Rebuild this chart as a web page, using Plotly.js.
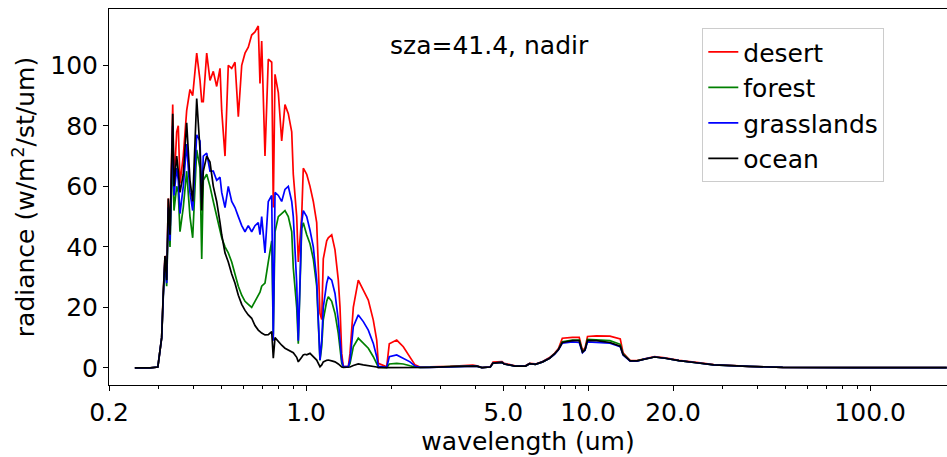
<!DOCTYPE html>
<html><head><meta charset="utf-8">
<script src="https://cdn.plot.ly/plotly-3.0.1.min.js"></script>
<style>html,body{margin:0;padding:0;background:#fff;}</style>
</head><body>
<div id="chart" style="width:947px;height:457px"></div>
<script>
// wavelength (um)
const wavelength = [0.247, 0.28, 0.298, 0.3075, 0.3116, 0.3159, 0.3203, 0.3246, 0.3291, 0.3337,
  0.3365, 0.34, 0.3476, 0.3521, 0.3571, 0.3668, 0.3771, 0.3874, 0.3961, 0.4093,
  0.4205, 0.4264, 0.4319, 0.4441, 0.4562, 0.4687, 0.4818, 0.4951, 0.502, 0.5157,
  0.5297, 0.5447, 0.5596, 0.5749, 0.5911, 0.6072, 0.6237, 0.6412, 0.6587, 0.6767,
  0.6862, 0.6958, 0.7148, 0.7343, 0.7551, 0.7649, 0.7757, 0.7969, 0.8192, 0.8415,
  0.8646, 0.8891, 0.9006, 0.926, 0.9382, 0.9645, 0.9772, 0.9908, 1.0049, 1.0323,
  1.0605, 1.0902, 1.1046, 1.12, 1.1358, 1.1506, 1.183, 1.1986, 1.2323, 1.266,
  1.3006, 1.3188, 1.3373, 1.3551, 1.4114, 1.4311, 1.4701, 1.5311, 1.5951, 1.6616,
  1.7308, 1.7797, 1.803, 1.9311, 1.9724, 2.0952, 2.2112, 2.3357, 2.4329, 2.534,
  2.75, 3.24, 3.9, 4.03, 4.2, 4.5, 4.6, 4.95, 5.04, 5.5,
  6.0, 6.2, 6.5, 6.9, 7.3, 7.6, 7.85, 8.1, 8.8, 9.3,
  9.55, 9.75, 9.95, 10.7, 11.95, 13.0, 13.3, 14.1, 14.9, 15.8,
  17.2, 18.75, 21, 24.2, 27.9, 37, 49, 87.5, 187];

const desert = [0, 0, 0.3, 10, 25, 37, 29, 56, 44, 75,
  87, 60, 78, 80, 61, 70, 85, 92, 90, 104,
  95, 88, 88, 104, 95, 98, 93, 99, 85, 70,
  100, 99, 101, 83, 100, 104, 106, 110, 111, 113,
  94, 108, 70, 102, 101, 53, 97, 91, 75, 87,
  84, 78, 64, 50, 35, 50, 66, 65, 64, 60,
  55, 48, 31, 18, 16, 36, 42, 43, 44, 39,
  29, 20, 4.8, 0.4, 0.4, 4.8, 20, 29, 25.7, 22.4,
  15.8, 9.2, 1.5, 0.4, 8, 9.2, 7, 3.7, 1, 0.3,
  0.3, 0.5, 0.9, 0.7, 0.1, 0.4, 1.9, 2.1, 1.5, 0.7,
  0.7, 1.5, 1.3, 2.1, 3.4, 4.8, 6.4, 9.8, 10.1, 10.1,
  5.8, 6.5, 10.4, 10.6, 10.5, 9.6, 5, 2.4, 2.4, 3,
  3.7, 3.3, 2.5, 1.8, 1.1, 0.5, 0.2, 0.1, 0.1];

const forest = [0, 0, 0.3, 10, 24, 35, 27, 50, 40, 65,
  73, 52, 60, 58, 45, 53, 65, 50, 43, 72,
  66, 36, 62, 64, 60, 55, 50, 46, 43, 40,
  38, 35, 31, 27, 24, 22, 21, 20, 22, 24,
  25, 27, 28, 35, 42, 11, 45, 50, 51, 52,
  50, 45, 33, 20, 8, 46, 48, 46, 44, 41,
  36, 27, 12, 2.5, 7, 16, 22, 23.5, 22, 18,
  11.4, 6.5, 1.5, 0.3, 0.3, 1.5, 7, 9.8, 8.1, 6.5,
  3.7, 1.5, 0.3, 0.1, 1.3, 1.5, 1.3, 0.7, 0.3, 0.2,
  0.2, 0.4, 0.7, 0.6, 0.1, 0.3, 1.6, 1.8, 1.3, 0.6,
  0.6, 1.4, 1.2, 2, 3.2, 4.6, 6.1, 8.6, 9.2, 9.2,
  5.4, 6, 9.4, 9.3, 9, 7.8, 4.6, 2.3, 2.3, 2.9,
  3.6, 3.2, 2.4, 1.7, 1, 0.5, 0.2, 0.1, 0.1];

const grasslands = [0, 0, 0.3, 10, 24, 36, 28, 53, 42, 70,
  80, 57, 66, 62, 51, 60, 74, 58, 52, 77,
  75, 55, 70, 71, 65, 65, 62, 63, 58, 53,
  60, 55, 53, 50, 47, 45, 47, 45, 47, 48,
  44, 50, 38, 55, 57, 9, 58, 57, 55, 59,
  60, 55, 50, 28, 9, 48, 52, 51, 50, 45.5,
  40, 29, 15, 2.6, 9, 20, 28, 30, 29, 24.6,
  15.8, 9.2, 2.6, 0.4, 0.4, 2.6, 13.6, 17.5, 15.3, 12.5,
  8.1, 3.7, 0.5, 0.2, 3.7, 4.3, 3.2, 2, 0.6, 0.2,
  0.2, 0.4, 0.7, 0.6, 0.1, 0.3, 1.6, 1.8, 1.3, 0.6,
  0.6, 1.4, 1.2, 2, 3.2, 4.5, 6, 8.2, 8.6, 8.4,
  5, 5.8, 8.6, 8.4, 8.2, 7, 4.3, 2.2, 2.2, 2.9,
  3.6, 3.2, 2.4, 1.7, 1, 0.5, 0.2, 0.1, 0.1];

const ocean = [0, 0, 0.3, 10, 25, 37, 29, 56, 44, 75,
  84, 60, 70, 65, 58, 64, 81, 62, 55, 89,
  72, 52, 65, 70, 68, 60, 55, 48, 44, 38,
  35, 31, 28, 24, 21, 19, 17.5, 16.4, 14, 12.5,
  12, 11.5, 10.9, 11, 12, 3.2, 10, 8.7, 7.5, 6.5,
  6, 5.4, 5, 3.5, 2, 3.5, 4.3, 4.5, 4.3, 4.8,
  3.8, 2.6, 1.5, 0.4, 1, 2, 2.5, 2.6, 2.3, 2,
  1.3, 0.8, 0.3, 0.2, 0.2, 0.3, 0.8, 1.3, 1, 0.8,
  0.5, 0.3, 0.1, 0.1, 0.2, 0.3, 0.2, 0.2, 0.2, 0.2,
  0.2, 0.4, 0.7, 0.6, 0.1, 0.3, 1.6, 1.8, 1.3, 0.6,
  0.6, 1.4, 1.2, 2, 3.2, 4.6, 6.1, 8.4, 9, 9,
  5.2, 6, 9.1, 9, 8.4, 7.2, 4.4, 2.3, 2.3, 2.9,
  3.6, 3.2, 2.4, 1.7, 1, 0.5, 0.2, 0.1, 0.1];

const seriesNames = ['desert', 'forest', 'grasslands', 'ocean'];
const seriesColors = ['#ff0000', '#008000', '#0000ff', '#000000'];
const seriesValues = [desert, forest, grasslands, ocean];

const xTickVals = [0.2, 1.0, 5.0, 10.0, 20.0, 100.0];
const xTickText = ['0.2', '1.0', '5.0', '10.0', '20.0', '100.0'];
const xMinorVals = [0.3, 0.4, 0.5, 0.6, 0.7, 0.8, 0.9, 2, 3, 4, 6, 7, 8, 9, 30, 40, 50, 60, 70, 80, 90];
const yTickVals = [0, 20, 40, 60, 80, 100];

const FONT = 'DejaVu Sans, sans-serif';
const FS = 25;

const traces = seriesValues.map((vals, i) => ({
  type: 'scatter', mode: 'lines',
  x: wavelength, y: vals, name: seriesNames[i],
  legendgroup: seriesNames[i],
  line: {color: seriesColors[i], width: 1.7}
}));

const layout = {
  width: 947, height: 457,
  margin: {l: 109, r: 0, t: 9, b: 72, pad: 0},
  paper_bgcolor: '#ffffff', plot_bgcolor: '#ffffff',
  font: {family: FONT, size: FS, color: '#000000'},
  showlegend: true,
  xaxis: {
    type: 'log', range: [Math.log10(0.2), 2.2726],
    tickmode: 'array', tickvals: xTickVals, ticktext: xTickText,
    ticks: 'outside', ticklen: 5, tickwidth: 1, tickcolor: '#000',
    showline: true, linecolor: '#000', linewidth: 1, mirror: true,
    showgrid: false, zeroline: false,
    tickfont: {family: FONT, size: FS, color: '#000'},
    minor: {tickmode: 'array', tickvals: xMinorVals, ticks: 'outside', ticklen: 3, tickwidth: 1, tickcolor: '#000', showgrid: false},
    title: {text: 'wavelength (um)', font: {family: FONT, size: FS, color: '#000'}, standoff: 6}
  },
  yaxis: {
    range: [-5.65, 118.6],
    tickmode: 'array', tickvals: yTickVals,
    ticks: 'outside', ticklen: 5, tickwidth: 1, tickcolor: '#000',
    showline: true, linecolor: '#000', linewidth: 1, mirror: false,
    showgrid: false, zeroline: false,
    tickfont: {family: FONT, size: FS, color: '#000'},
    title: {text: 'radiance (w/m<sup>2</sup>/st/um)', font: {family: FONT, size: FS, color: '#000'}, standoff: 8}
  },
  legend: {
    x: 0.708, y: 0.949, xanchor: 'left', yanchor: 'top',
    bgcolor: '#ffffff', bordercolor: '#cccccc', borderwidth: 1,
    font: {family: FONT, size: FS, color: '#000'},
    tracegroupgap: 0
  },
  annotations: [{
    xref: 'paper', yref: 'paper', x: 0.333, y: 0.904,
    xanchor: 'left', yanchor: 'middle', showarrow: false,
    text: 'sza=41.4, nadir', font: {family: FONT, size: FS, color: '#000'}
  }]
};

Plotly.newPlot('chart', traces, layout, {staticPlot: true, displayModeBar: false});
</script>
</body></html>
